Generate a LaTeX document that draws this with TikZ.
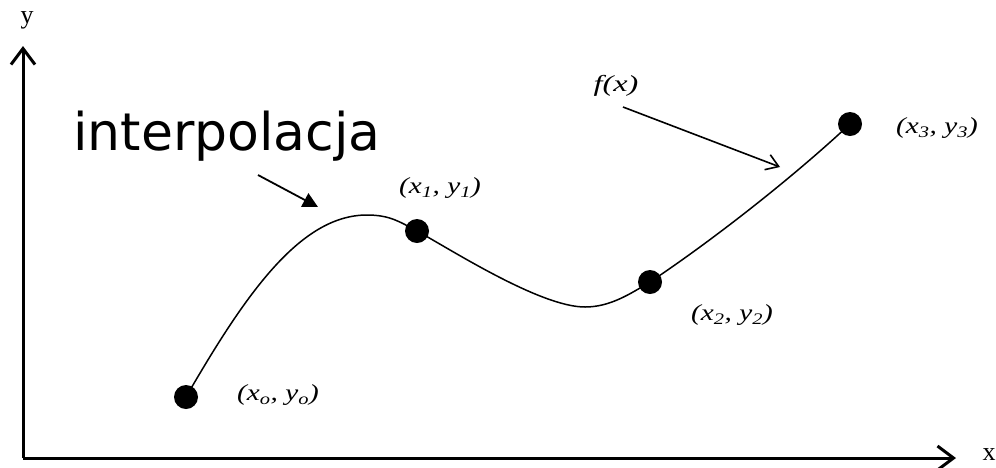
\documentclass[tikz,border=0pt]{standalone}
\usepackage{fontspec}
\setmainfont{Liberation Serif}
\newfontfamily\dejavu{DejaVu Sans}
\usetikzlibrary{arrows.meta}
\tikzset{
  dot/.style={circle,fill=black,inner sep=0pt,minimum size=24pt},
  axis/.style={line width=3pt,-{Straight Barb[length=16pt,width=24pt,line width=3pt]}},
  lab/.style={inner sep=0pt,font=\fontsize{23}{27}\selectfont\itshape},
  axlab/.style={inner sep=0pt,font=\fontsize{26}{30}\selectfont},
  curve/.style={line width=1.5pt},
}
\newcommand{\stretchlab}[1]{\scalebox{1.27}[1]{#1}}
\begin{document}
\begin{tikzpicture}[x=1pt,y=-1pt]
\useasboundingbox (0,0) rectangle (996,467);
% axes
\coordinate (O) at (23,458);
\coordinate (ytip) at (23,46);
\coordinate (xtip) at (956,458);
\draw[axis] (O) -- (ytip);
\draw[axis] (O) -- (xtip);
\node[axlab] (ylab) at (27,20) {y};
\node[axlab] (xlab) at (989,455) {x};
% data points
\node[dot] (p0) at (186,397) {};
\node[dot] (p1) at (417,231) {};
\node[dot] (p2) at (650,282) {};
\node[dot] (p3) at (850,124) {};
% curve extrema
\coordinate (peak) at (367,215);
\coordinate (low) at (585,307);
\draw[curve] (p0.center) .. controls (245,295) and (300,215) .. (peak)
  .. controls (390,215) and (400,222) .. (p1.center)
  .. controls (450,249) and (540,307) .. (low)
  .. controls (610,307) and (630,294) .. (p2.center)
  .. controls (710,242) and (790,180) .. (p3.center);
% labels
\node[lab] (l0) at (278,395) {\stretchlab{(x\textsubscript{o}, y\textsubscript{o})}};
\node[lab] (l1) at (440,188) {\stretchlab{(x\textsubscript{1}, y\textsubscript{1})}};
\node[lab] (l2) at (732,315) {\stretchlab{(x\textsubscript{2}, y\textsubscript{2})}};
\node[lab] (l3) at (937,128) {\stretchlab{(x\textsubscript{3}, y\textsubscript{3})}};
\node[lab] (fx) at (616,86) {\scalebox{1.4}[1]{f(x)}};
\node[inner sep=0pt,anchor=base,font=\dejavu\fontsize{52}{60}\selectfont] (interp) at (227,150) {interpolacja};
% arrows
\coordinate (fa) at (623,107);
\coordinate (fb) at (780,167);
\draw[line width=1.6pt,-{Straight Barb[length=12pt,width=16pt,line width=1.6pt]}] (fa) -- (fb);
\coordinate (ia) at (258,175);
\coordinate (ib) at (318,207);
\draw[line width=1.8pt,-{Triangle[length=15pt,width=15pt]}] (ia) -- (ib);
\end{tikzpicture}
\end{document}
